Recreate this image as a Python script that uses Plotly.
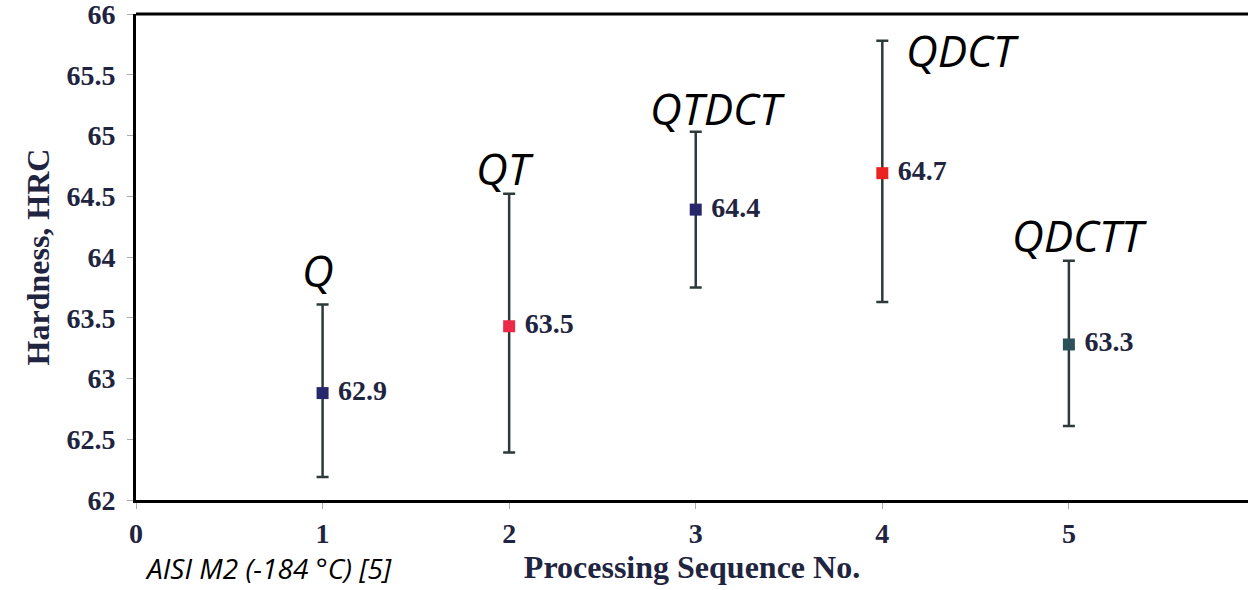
import plotly.graph_objects as go

seq = [1, 2, 3, 4, 5]
names = ["Q", "QT", "QTDCT", "QDCT", "QDCTT"]
hardness = [62.88, 63.43, 64.39, 64.69, 63.28]
upper = [63.61, 64.52, 65.03, 65.78, 63.97]
lower = [62.19, 62.39, 63.75, 63.63, 62.61]
value_labels = ["62.9", "63.5", "64.4", "64.7", "63.3"]
marker_colors = ["#25286a", "#ec2a48", "#25286a", "#ec2222", "#2e5058"]
name_x = [0.975, 1.977, 3.114, 4.432, 5.059]
name_y = [63.89, 64.73, 65.23, 65.70, 64.18]

serif = "Liberation Serif"
txt_col = "#1f2540"

fig = go.Figure()
fig.add_trace(go.Scatter(
    x=seq, y=hardness, mode="markers+text",
    marker=dict(symbol="square", size=12, color=marker_colors),
    error_y=dict(type="data", symmetric=False,
                 array=[u - h for u, h in zip(upper, hardness)],
                 arrayminus=[h - l for h, l in zip(hardness, lower)],
                 color="#2c3a3a", thickness=2.5, width=6),
    text=[" " + v for v in value_labels], textposition="middle right",
    textfont=dict(family=serif, size=28, color=txt_col, weight="bold"),
    showlegend=False, cliponaxis=False,
))

for x, n, y in zip(name_x, names, name_y):
    fig.add_annotation(x=x, y=y, text=n, showarrow=False, xanchor="center", yanchor="middle",
                       font=dict(family="Open Sans", size=44, color="black", style="italic"))

fig.add_annotation(x=0.035, y=-0.14, xref="x", yref="paper", text="AISI M2 (-184 °C) [5]",
                   showarrow=False, xanchor="left", yanchor="middle",
                   font=dict(family="Open Sans", size=28, color="black", style="italic"))

fig.add_shape(type="line", xref="paper", yref="paper", x0=0, x1=1, y0=1, y1=1,
              line=dict(color="black", width=3))

fig.update_layout(
    width=1248, height=590,
    margin=dict(l=136, r=0, t=14, b=90),
    plot_bgcolor="white", paper_bgcolor="white",
    xaxis=dict(range=[0, 5.96], tickvals=[0, 1, 2, 3, 4, 5], showgrid=False, zeroline=False,
               showline=True, linecolor="black", linewidth=3,
               ticks="outside", ticklen=6, tickcolor="#aaaaaa",
               tickfont=dict(family=serif, size=28, color=txt_col, weight="bold"),
               title=dict(text="Processing Sequence No.", standoff=8,
                          font=dict(family=serif, size=32, color=txt_col, weight="bold"))),
    yaxis=dict(range=[62, 66], dtick=0.5, showgrid=False, zeroline=False,
               showline=True, linecolor="black", linewidth=3,
               ticks="outside", ticklen=6, tickcolor="#aaaaaa",
               ticklabelstandoff=6, ticklabeloverflow="allow",
               tickfont=dict(family=serif, size=28, color=txt_col, weight="bold"),
               title=dict(text="Hardness, HRC", standoff=8,
                          font=dict(family=serif, size=32, color=txt_col, weight="bold"))),
)

fig.write_html("out.html")
